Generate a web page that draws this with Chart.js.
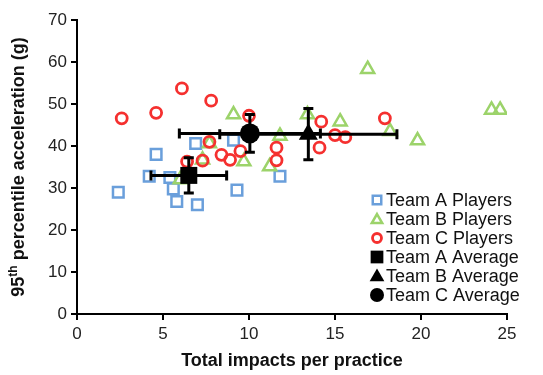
<!DOCTYPE html>
<html>
<head>
<meta charset="utf-8">
<script src="https://cdn.jsdelivr.net/npm/chart.js@4.4.1/dist/chart.umd.min.js"></script>
<style>
    html, body { margin: 0; padding: 0; background: #fff; }
    #wrap { width: 543px; height: 375px; }
</style>
</head>
<body>
<div id="wrap"><canvas id="impactChart" width="543" height="375"></canvas></div>
<script>
// Team A players (blue squares)
const teamAImpacts = [2.4, 4.6, 4.2, 5.4, 5.6, 5.8, 7.0, 6.9, 9.1, 9.3, 11.8];
const teamAAccel   = [29.0, 38.0, 32.8, 32.5, 29.8, 26.8, 26.0, 40.6, 41.4, 29.5, 32.8];

// Team B players (green triangles)
const teamBImpacts = [6.0, 7.3, 7.7, 9.1, 9.7, 11.2, 11.8, 13.4, 15.3, 16.9, 18.2, 19.8, 24.1, 24.6];
const teamBAccel   = [32.0, 36.7, 40.6, 47.5, 36.3, 35.1, 42.4, 47.5, 45.8, 58.3, 43.5, 41.3, 48.6, 48.6];

// Team C players (red circles)
const teamCImpacts = [2.6, 4.6, 6.1, 6.4, 7.3, 7.7, 7.8, 8.4, 8.9, 9.5, 10.0, 11.6, 11.6, 14.2, 14.1, 15.0, 15.6, 17.9];
const teamCAccel   = [46.6, 47.9, 53.7, 36.3, 36.5, 41.0, 50.8, 37.9, 36.7, 38.8, 47.2, 39.6, 36.6, 45.8, 39.6, 42.6, 42.1, 46.6];

// Team averages (A, B, C) with error bars
const avgImpacts    = [6.5, 13.45, 10.05];
const avgAccel      = [33.0, 42.8, 43.0];
const avgImpactsErr = [2.2, 5.15, 4.1];
const avgAccelErr   = [4.2, 6.1, 4.5];

const xTicks = [0, 5, 10, 15, 20, 25];
const yTicks = [0, 10, 20, 30, 40, 50, 60, 70];

const FONT = "'Liberation Sans', Arial, sans-serif";

function toPoints(xs, ys) {
    return xs.map((x, i) => ({ x: x, y: ys[i] }));
}

// Error bars are drawn right after the player markers, below the average markers
const errorBarPlugin = {
    id: 'errorBars',
    afterDatasetDraw(chart, args) {
        if (args.index !== 2) return;
        const ctx = chart.ctx;
        const xs = chart.scales.x, ys = chart.scales.y;
        const cap = 5;
        ctx.save();
        ctx.strokeStyle = '#000';
        ctx.lineWidth = 3;
        avgImpacts.forEach((v, i) => {
            const cx = xs.getPixelForValue(v), cy = ys.getPixelForValue(avgAccel[i]);
            const x0 = xs.getPixelForValue(v - avgImpactsErr[i]);
            const x1 = xs.getPixelForValue(v + avgImpactsErr[i]);
            const y0 = ys.getPixelForValue(avgAccel[i] - avgAccelErr[i]);
            const y1 = ys.getPixelForValue(avgAccel[i] + avgAccelErr[i]);
            ctx.beginPath();
            ctx.moveTo(x0, cy); ctx.lineTo(x1, cy);
            ctx.moveTo(x0, cy - cap); ctx.lineTo(x0, cy + cap);
            ctx.moveTo(x1, cy - cap); ctx.lineTo(x1, cy + cap);
            ctx.moveTo(cx, y0); ctx.lineTo(cx, y1);
            ctx.moveTo(cx - cap, y0); ctx.lineTo(cx + cap, y0);
            ctx.moveTo(cx - cap, y1); ctx.lineTo(cx + cap, y1);
            ctx.stroke();
        });
        ctx.restore();
    }
};

// Legend inside the plot area and axis titles (y title needs a superscript)
const legendSizes = [6, 6, 4.5, 9, 8.5, 7];

const annotationsPlugin = {
    id: 'annotations',
    afterDraw(chart) {
        const ctx = chart.ctx;
        const area = chart.chartArea;
        ctx.save();

        // legend
        const lx = 377, ly = 200, step = 19;
        ctx.textBaseline = 'middle';
        ctx.textAlign = 'left';
        chart.data.datasets.forEach((ds, i) => {
            const y = ly + i * step;
            const bw = ds.pointBorderWidth;
            ctx.fillStyle = ds.pointBackgroundColor;
            ctx.strokeStyle = ds.pointBorderColor;
            ctx.lineWidth = bw;
            Chart.helpers.drawPoint(ctx, {
                pointStyle: ds.pointStyle,
                radius: legendSizes[i],
                borderWidth: bw
            }, lx, y + (ds.pointStyle === 'triangle' ? 1 : 0));
            ctx.font = '18px ' + FONT;
            ctx.fillStyle = '#111';
            ctx.fillText(ds.label, lx + 9, y + 1);
        });

        // x title
        ctx.font = 'bold 18px ' + FONT;
        ctx.textAlign = 'center';
        ctx.textBaseline = 'middle';
        ctx.fillStyle = '#111';
        ctx.fillText('Total impacts per practice', (area.left + area.right) / 2, 361);

        // y title with superscript "th"
        ctx.translate(19, (area.top + area.bottom) / 2);
        ctx.rotate(-Math.PI / 2);
        ctx.textAlign = 'left';
        ctx.textBaseline = 'middle';
        const main = 'bold 18px ' + FONT, sup = 'bold 12px ' + FONT;
        ctx.font = main; const w1 = ctx.measureText('95').width;
        ctx.font = sup;  const w2 = ctx.measureText('th').width;
        ctx.font = main; const w3 = ctx.measureText(' percentile acceleration (g)').width;
        let x = -(w1 + w2 + w3) / 2;
        ctx.font = main; ctx.fillText('95', x, 0); x += w1;
        ctx.font = sup;  ctx.fillText('th', x, -5); x += w2;
        ctx.font = main; ctx.fillText(' percentile acceleration (g)', x, 0);

        ctx.restore();
    }
};

const axisCommon = {
    type: 'linear',
    grid: {
        drawOnChartArea: false,
        drawTicks: true,
        tickLength: 6,
        color: '#000',
        lineWidth: 2
    },
    border: { color: '#000', width: 2 },
    ticks: {
        color: '#222',
        font: { family: FONT, size: 17 }
    }
};

window.initializeImpactChart = function() {
    const ctx = document.getElementById('impactChart');
    return new Chart(ctx, {
        type: 'scatter',
        data: {
            datasets: [
                {
                    label: 'Team A Players',
                    data: toPoints(teamAImpacts, teamAAccel),
                    pointStyle: 'rect',
                    pointRadius: 7.5,
                    pointBorderWidth: 2.5,
                    pointBorderColor: '#6A9FDB',
                    pointBackgroundColor: 'rgba(255,255,255,0)',
                    order: 3
                },
                {
                    label: 'Team B Players',
                    data: toPoints(teamBImpacts, teamBAccel),
                    pointStyle: 'triangle',
                    pointRadius: 7.5,
                    pointBorderWidth: 2.5,
                    pointBorderColor: '#9CD36A',
                    pointBackgroundColor: 'rgba(255,255,255,0)',
                    order: 2
                },
                {
                    label: 'Team C Players',
                    data: toPoints(teamCImpacts, teamCAccel),
                    pointStyle: 'circle',
                    pointRadius: 5.5,
                    pointBorderWidth: 2.8,
                    pointBorderColor: '#F5302F',
                    pointBackgroundColor: 'rgba(255,255,255,0)',
                    order: 1
                },
                {
                    label: 'Team A Average',
                    data: [{ x: avgImpacts[0], y: avgAccel[0] }],
                    pointStyle: 'rect',
                    pointRadius: 12,
                    pointBorderWidth: 0,
                    pointBorderColor: '#000',
                    pointBackgroundColor: '#000',
                    order: 0
                },
                {
                    label: 'Team B Average',
                    data: [{ x: avgImpacts[1], y: avgAccel[1] }],
                    pointStyle: 'triangle',
                    pointRadius: 11,
                    pointBorderWidth: 0,
                    pointBorderColor: '#000',
                    pointBackgroundColor: '#000',
                    order: 0
                },
                {
                    label: 'Team C Average',
                    data: [{ x: avgImpacts[2], y: avgAccel[2] }],
                    pointStyle: 'circle',
                    pointRadius: 10,
                    pointBorderWidth: 0,
                    pointBorderColor: '#000',
                    pointBackgroundColor: '#000',
                    order: 0
                }
            ]
        },
        options: {
            responsive: false,
            animation: false,
            devicePixelRatio: 1,
            layout: { padding: { top: 20, right: 36, left: 0, bottom: 0 } },
            plugins: {
                legend: { display: false },
                tooltip: { enabled: false }
            },
            scales: {
                x: Object.assign({}, axisCommon, {
                    min: 0, max: 25,
                    afterBuildTicks: (s) => { s.ticks = xTicks.map(v => ({ value: v })); },
                    afterFit: (s) => { s.height = 61; },
                    ticks: Object.assign({}, axisCommon.ticks, { padding: 4 })
                }),
                y: Object.assign({}, axisCommon, {
                    min: 0, max: 70,
                    afterBuildTicks: (s) => { s.ticks = yTicks.map(v => ({ value: v })); },
                    afterFit: (s) => { s.width = 77; },
                    ticks: Object.assign({}, axisCommon.ticks, { padding: 4 })
                })
            }
        },
        plugins: [errorBarPlugin, annotationsPlugin]
    });
};

window.initializeImpactChart();
</script>
</body>
</html>
